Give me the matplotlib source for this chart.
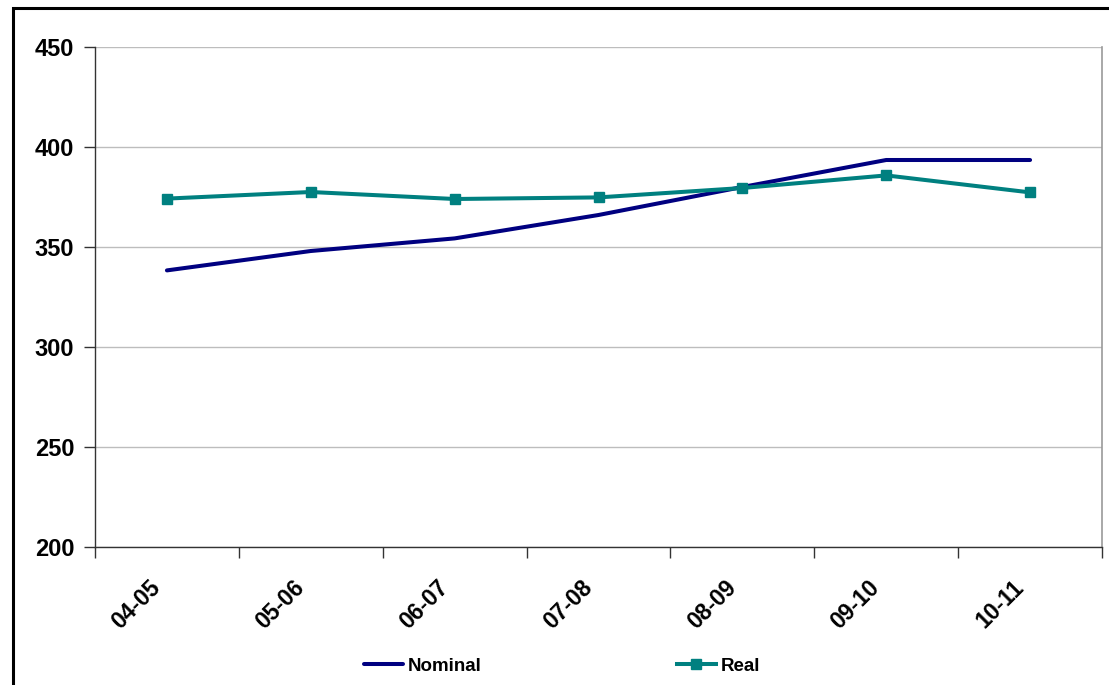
import matplotlib
matplotlib.use("Agg")
import matplotlib.pyplot as plt
from matplotlib.patches import Rectangle

# Data
years = ["04-05", "05-06", "06-07", "07-08", "08-09", "09-10", "10-11"]
nominal = [338.3, 348.0, 354.3, 366.0, 380.0, 393.5, 393.5]
real = [374.2, 377.5, 374.0, 374.8, 379.5, 385.8, 377.3]
y_ticks = [200, 250, 300, 350, 400, 450]

NAVY = "#000080"
TEAL = "#008080"

plt.rcParams["font.family"] = ["Liberation Sans", "DejaVu Sans"]
plt.rcParams["font.weight"] = "bold"

fig = plt.figure(figsize=(11.09, 6.85), dpi=100)
fig.patch.set_facecolor("white")

# outer chart frame
fig.add_artist(Rectangle((13 / 1109, -0.05), 1.2, (685 - 8) / 685 + 0.05,
                         transform=fig.transFigure, fill=False,
                         edgecolor="black", linewidth=2.2))

ax = fig.add_axes([95 / 1109, (685 - 547) / 685, (1102 - 95) / 1109, 500 / 685])

x = list(range(len(years)))
ax.plot(x, nominal, color=NAVY, linewidth=2.9, solid_capstyle="round",
        label="Nominal", zorder=3)
ax.plot(x, real, color=TEAL, linewidth=2.9, marker="s", markersize=7.8,
        label="Real", zorder=4)

ax.set_xlim(-0.5, len(years) - 0.5)
ax.set_ylim(200, 450)
ax.set_yticks(y_ticks)
ax.set_yticklabels([str(v) for v in y_ticks], fontsize=17, fontweight="bold")
ax.yaxis.grid(True, color="#bdbdbd", linewidth=1.0)
ax.set_axisbelow(True)

# category boundaries as tick marks
ax.set_xticks([i - 0.5 for i in range(len(years) + 1)])
ax.set_xticklabels([""] * (len(years) + 1))
ax.tick_params(axis="x", which="major", length=8, width=1, color="#333333",
               direction="out")
ax.tick_params(axis="y", length=8, width=1, color="#333333", direction="out",
               pad=7)

# rotated category labels, one per category
for i, name in enumerate(years):
    ax.annotate(name, xy=(i, 0), xycoords=ax.get_xaxis_transform(),
                xytext=(-13, -21), textcoords="offset points",
                rotation=45, rotation_mode="anchor", ha="right", va="top",
                fontsize=16.5, fontweight="bold", annotation_clip=False)

for side in ("left", "bottom"):
    ax.spines[side].set_color("#333333")
    ax.spines[side].set_linewidth(1.0)
ax.spines["top"].set_visible(False)
ax.spines["right"].set_color("#9a9a9a")
ax.spines["right"].set_linewidth(1.2)

leg = fig.legend(loc="center", bbox_to_anchor=(562 / 1109, 19 / 685), ncol=2,
                 frameon=False, fontsize=13.5, handlelength=2.1,
                 handletextpad=0.25, columnspacing=10.4, markerscale=0.9)
for t in leg.get_texts():
    t.set_fontweight("bold")

fig.savefig("out.png", dpi=100, facecolor="white")
